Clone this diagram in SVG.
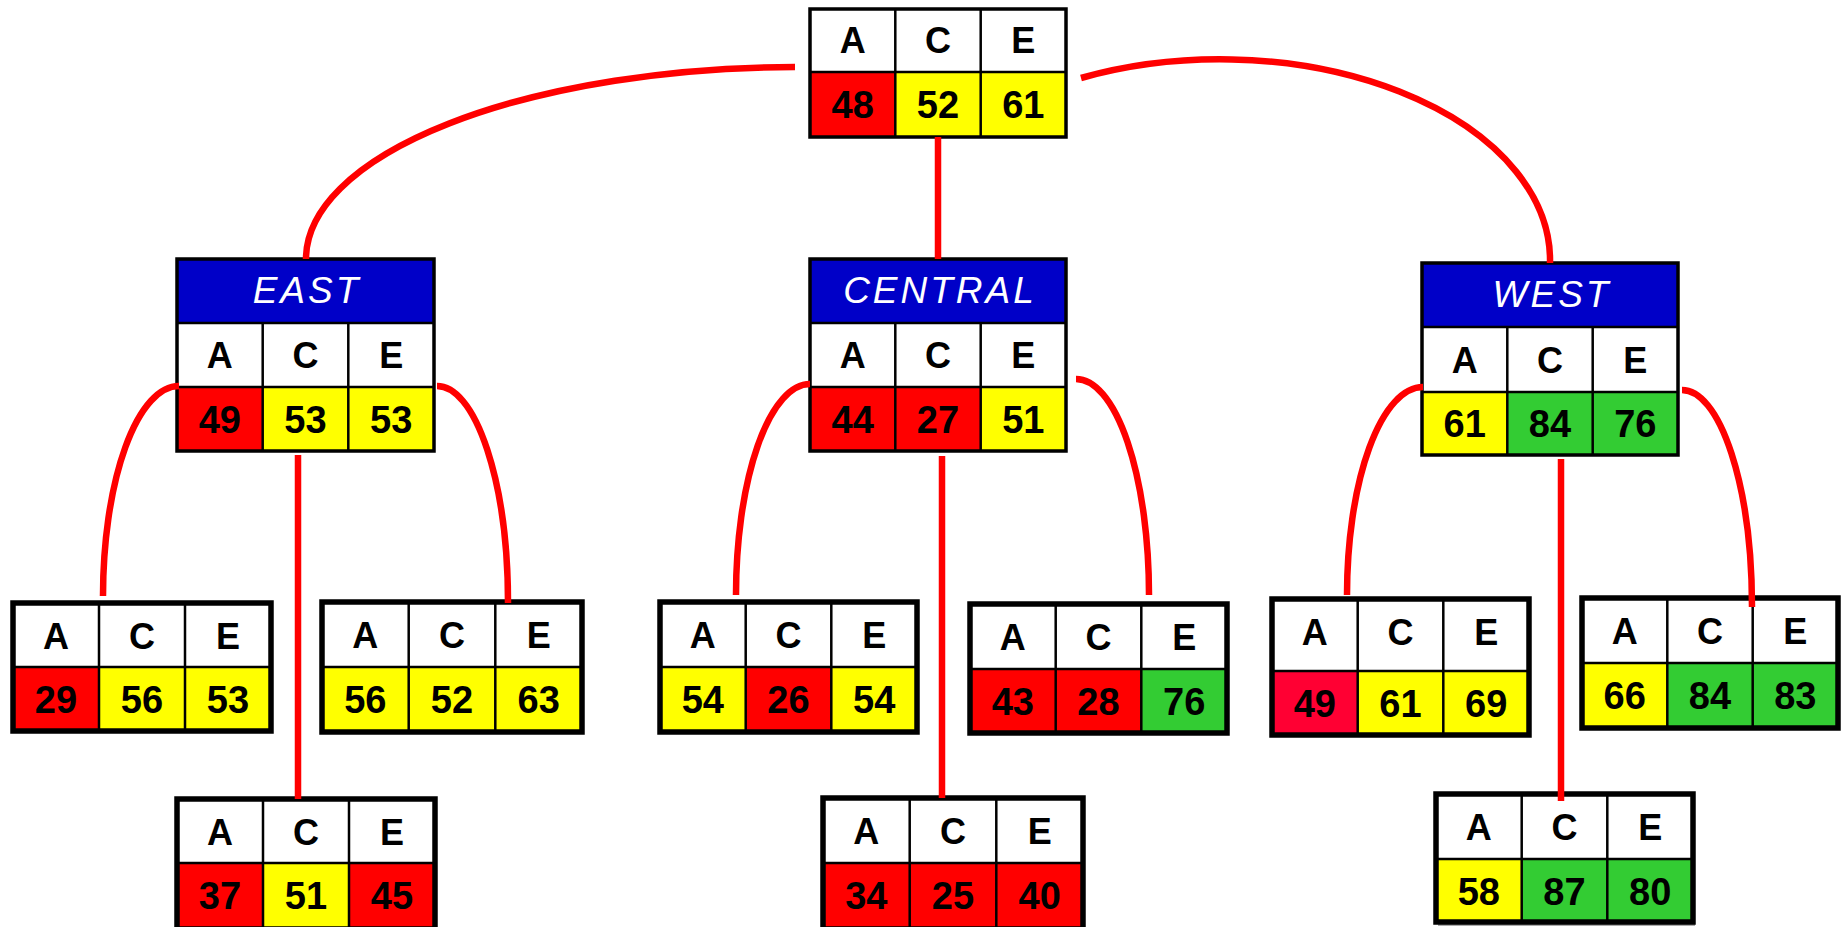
<svg xmlns="http://www.w3.org/2000/svg" width="1847" height="927" viewBox="0 0 1847 927">
<style>
.w{fill:#fff}.r{fill:#f00}.k{fill:#ff0033}.y{fill:#ff0}.g{fill:#33cc33}.b{fill:#0000c8}
.ln{stroke:#000;stroke-width:2.5;fill:none}
.f3{fill:none;stroke:#000;stroke-width:3.5}
.f5{fill:none;stroke:#000;stroke-width:5.5}
.sh{fill:#aaa}
text{font-family:"Liberation Sans",Arial,sans-serif;text-anchor:middle;fill:#000}
.h{font-size:36px;font-weight:bold}
.n{font-size:38px;font-weight:bold}
.t{font-size:37px;font-style:italic;fill:#fff;letter-spacing:3px}
.c{fill:none;stroke:#f00;stroke-width:6.5}
</style>
<g id="node-top">
<rect class="w" x="810" y="9" width="256" height="63"/>
<rect class="r" x="810" y="72" width="85.3" height="65"/><rect class="y" x="895.3" y="72" width="85.4" height="65"/><rect class="y" x="980.7" y="72" width="85.3" height="65"/>
<path class="ln" d="M810 72H1066M895.3 9V137M980.7 9V137"/>
<rect class="f3" x="810" y="9" width="256" height="128"/>
<text class="h" x="852.7" y="53">A</text><text class="h" x="938" y="53">C</text><text class="h" x="1023.3" y="53">E</text>
<text class="n" x="852.7" y="118">48</text><text class="n" x="938" y="118">52</text><text class="n" x="1023.3" y="118">61</text>
</g>
<g id="node-east">
<rect class="b" x="177" y="259" width="257" height="64"/>
<rect class="w" x="177" y="323" width="257" height="64"/>
<rect class="r" x="177" y="387" width="85.7" height="64"/><rect class="y" x="262.7" y="387" width="85.6" height="64"/><rect class="y" x="348.3" y="387" width="85.7" height="64"/>
<path class="ln" d="M177 323H434M177 387H434M262.7 323V451M348.3 323V451"/>
<rect class="f3" x="177" y="259" width="257" height="192"/>
<text class="t" x="307" y="303">EAST</text>
<text class="h" x="219.8" y="368">A</text><text class="h" x="305.5" y="368">C</text><text class="h" x="391.2" y="368">E</text>
<text class="n" x="219.8" y="433">49</text><text class="n" x="305.5" y="433">53</text><text class="n" x="391.2" y="433">53</text>
</g>
<g id="node-central">
<rect class="b" x="810" y="259" width="256" height="64"/>
<rect class="w" x="810" y="323" width="256" height="64"/>
<rect class="r" x="810" y="387" width="85.3" height="64"/><rect class="r" x="895.3" y="387" width="85.4" height="64"/><rect class="y" x="980.7" y="387" width="85.3" height="64"/>
<path class="ln" d="M810 323H1066M810 387H1066M895.3 323V451M980.7 323V451"/>
<rect class="f3" x="810" y="259" width="256" height="192"/>
<text class="t" x="940" y="303">CENTRAL</text>
<text class="h" x="852.7" y="368">A</text><text class="h" x="938" y="368">C</text><text class="h" x="1023.3" y="368">E</text>
<text class="n" x="852.7" y="433">44</text><text class="n" x="938" y="433">27</text><text class="n" x="1023.3" y="433">51</text>
</g>
<g id="node-west">
<rect class="b" x="1422" y="263" width="256" height="64"/>
<rect class="w" x="1422" y="327" width="256" height="65"/>
<rect class="y" x="1422" y="392" width="85.3" height="63"/><rect class="g" x="1507.3" y="392" width="85.4" height="63"/><rect class="g" x="1592.7" y="392" width="85.3" height="63"/>
<path class="ln" d="M1422 327H1678M1422 392H1678M1507.3 327V455M1592.7 327V455"/>
<rect class="f3" x="1422" y="263" width="256" height="192"/>
<text class="t" x="1552" y="307">WEST</text>
<text class="h" x="1464.7" y="373">A</text><text class="h" x="1550" y="373">C</text><text class="h" x="1635.3" y="373">E</text>
<text class="n" x="1464.7" y="437">61</text><text class="n" x="1550" y="437">84</text><text class="n" x="1635.3" y="437">76</text>
</g>
<g id="leaf-east-a">
<rect class="sh" x="15" y="605" width="258" height="128"/>
<rect class="w" x="13" y="603" width="258" height="64"/>
<rect class="r" x="13" y="667" width="86" height="64"/><rect class="y" x="99" y="667" width="86" height="64"/><rect class="y" x="185" y="667" width="86" height="64"/>
<path class="ln" d="M13 667H271M99 603V731M185 603V731"/>
<rect class="f5" x="13" y="603" width="258" height="128"/>
<text class="h" x="56" y="649">A</text><text class="h" x="142" y="649">C</text><text class="h" x="228" y="649">E</text>
<text class="n" x="56" y="713">29</text><text class="n" x="142" y="713">56</text><text class="n" x="228" y="713">53</text>
</g>
<g id="leaf-east-e">
<rect class="sh" x="324" y="604" width="260" height="130"/>
<rect class="w" x="322" y="602" width="260" height="65"/>
<rect class="y" x="322" y="667" width="260" height="65"/>
<path class="ln" d="M322 667H582M408.7 602V732M495.3 602V732"/>
<rect class="f5" x="322" y="602" width="260" height="130"/>
<text class="h" x="365.3" y="648">A</text><text class="h" x="452" y="648">C</text><text class="h" x="538.7" y="648">E</text>
<text class="n" x="365.3" y="713">56</text><text class="n" x="452" y="713">52</text><text class="n" x="538.7" y="713">63</text>
</g>
<g id="leaf-east-c">
<rect class="sh" x="179" y="801" width="258" height="130"/>
<rect class="w" x="177" y="799" width="258" height="64"/>
<rect class="r" x="177" y="863" width="86" height="66"/><rect class="y" x="263" y="863" width="86" height="66"/><rect class="r" x="349" y="863" width="86" height="66"/>
<path class="ln" d="M177 863H435M263 799V929M349 799V929"/>
<rect class="f5" x="177" y="799" width="258" height="130"/>
<text class="h" x="220" y="845">A</text><text class="h" x="306" y="845">C</text><text class="h" x="392" y="845">E</text>
<text class="n" x="220" y="909">37</text><text class="n" x="306" y="909">51</text><text class="n" x="392" y="909">45</text>
</g>
<g id="leaf-central-a">
<rect class="sh" x="662" y="604" width="257" height="130"/>
<rect class="w" x="660" y="602" width="257" height="65"/>
<rect class="y" x="660" y="667" width="85.7" height="65"/><rect class="r" x="745.7" y="667" width="85.6" height="65"/><rect class="y" x="831.3" y="667" width="85.7" height="65"/>
<path class="ln" d="M660 667H917M745.7 602V732M831.3 602V732"/>
<rect class="f5" x="660" y="602" width="257" height="130"/>
<text class="h" x="702.8" y="648">A</text><text class="h" x="788.5" y="648">C</text><text class="h" x="874.2" y="648">E</text>
<text class="n" x="702.8" y="713">54</text><text class="n" x="788.5" y="713">26</text><text class="n" x="874.2" y="713">54</text>
</g>
<g id="leaf-central-e">
<rect class="sh" x="972" y="606" width="257" height="129"/>
<rect class="w" x="970" y="604" width="257" height="65"/>
<rect class="r" x="970" y="669" width="85.7" height="64"/><rect class="r" x="1055.7" y="669" width="85.6" height="64"/><rect class="g" x="1141.3" y="669" width="85.7" height="64"/>
<path class="ln" d="M970 669H1227M1055.7 604V733M1141.3 604V733"/>
<rect class="f5" x="970" y="604" width="257" height="129"/>
<text class="h" x="1012.8" y="650">A</text><text class="h" x="1098.5" y="650">C</text><text class="h" x="1184.2" y="650">E</text>
<text class="n" x="1012.8" y="715">43</text><text class="n" x="1098.5" y="715">28</text><text class="n" x="1184.2" y="715">76</text>
</g>
<g id="leaf-central-c">
<rect class="sh" x="825" y="800" width="260" height="130"/>
<rect class="w" x="823" y="798" width="260" height="65"/>
<rect class="r" x="823" y="863" width="260" height="66"/>
<path class="ln" d="M823 863H1083M909.7 798V929M996.3 798V929"/>
<rect class="f5" x="823" y="798" width="260" height="131"/>
<text class="h" x="866.3" y="844">A</text><text class="h" x="953" y="844">C</text><text class="h" x="1039.7" y="844">E</text>
<text class="n" x="866.3" y="909">34</text><text class="n" x="953" y="909">25</text><text class="n" x="1039.7" y="909">40</text>
</g>
<g id="leaf-west-a">
<rect class="sh" x="1274" y="601" width="257" height="136"/>
<rect class="w" x="1272" y="599" width="257" height="72"/>
<rect class="k" x="1272" y="671" width="85.7" height="64"/><rect class="y" x="1357.7" y="671" width="85.6" height="64"/><rect class="y" x="1443.3" y="671" width="85.7" height="64"/>
<path class="ln" d="M1272 671H1529M1357.7 599V735M1443.3 599V735"/>
<rect class="f5" x="1272" y="599" width="257" height="136"/>
<text class="h" x="1314.8" y="645">A</text><text class="h" x="1400.5" y="645">C</text><text class="h" x="1486.2" y="645">E</text>
<text class="n" x="1314.8" y="717">49</text><text class="n" x="1400.5" y="717">61</text><text class="n" x="1486.2" y="717">69</text>
</g>
<g id="leaf-west-e">
<rect class="sh" x="1584" y="600" width="256" height="130"/>
<rect class="w" x="1582" y="598" width="256" height="65"/>
<rect class="y" x="1582" y="663" width="85.3" height="65"/><rect class="g" x="1667.3" y="663" width="85.4" height="65"/><rect class="g" x="1752.7" y="663" width="85.3" height="65"/>
<path class="ln" d="M1582 663H1838M1667.3 598V728M1752.7 598V728"/>
<rect class="f5" x="1582" y="598" width="256" height="130"/>
<text class="h" x="1624.7" y="644">A</text><text class="h" x="1710" y="644">C</text><text class="h" x="1795.3" y="644">E</text>
<text class="n" x="1624.7" y="709">66</text><text class="n" x="1710" y="709">84</text><text class="n" x="1795.3" y="709">83</text>
</g>
<g id="leaf-west-c">
<rect class="sh" x="1438" y="796" width="257" height="130"/>
<rect class="w" x="1436" y="794" width="257" height="65"/>
<rect class="y" x="1436" y="859" width="85.7" height="63"/><rect class="g" x="1521.7" y="859" width="85.6" height="63"/><rect class="g" x="1607.3" y="859" width="85.7" height="63"/>
<path class="ln" d="M1436 859H1693M1521.7 794V922M1607.3 794V922"/>
<rect class="f5" x="1436" y="794" width="257" height="128"/>
<text class="h" x="1478.8" y="840">A</text><text class="h" x="1564.5" y="840">C</text><text class="h" x="1650.2" y="840">E</text>
<text class="n" x="1478.8" y="905">58</text><text class="n" x="1564.5" y="905">87</text><text class="n" x="1650.2" y="905">80</text>
</g>
<g id="connectors">
<path class="c" d="M795 67A491 192 0 0 0 306 259"/>
<path class="c" d="M1081 78A330 201 0 0 1 1550 263"/>
<path class="c" d="M938 137V259"/>
<path class="c" d="M179 386A76 210 0 0 0 103 596"/>
<path class="c" d="M437 386A71 217 0 0 1 508 603"/>
<path class="c" d="M298 455V799"/>
<path class="c" d="M810 384A74 211 0 0 0 736 595"/>
<path class="c" d="M1076 379A73 216 0 0 1 1149 595"/>
<path class="c" d="M942 456V798"/>
<path class="c" d="M1423 387A76 208 0 0 0 1347 595"/>
<path class="c" d="M1682 390A70 217 0 0 1 1752 607"/>
<path class="c" d="M1561 459V801"/>
</g>
</svg>
